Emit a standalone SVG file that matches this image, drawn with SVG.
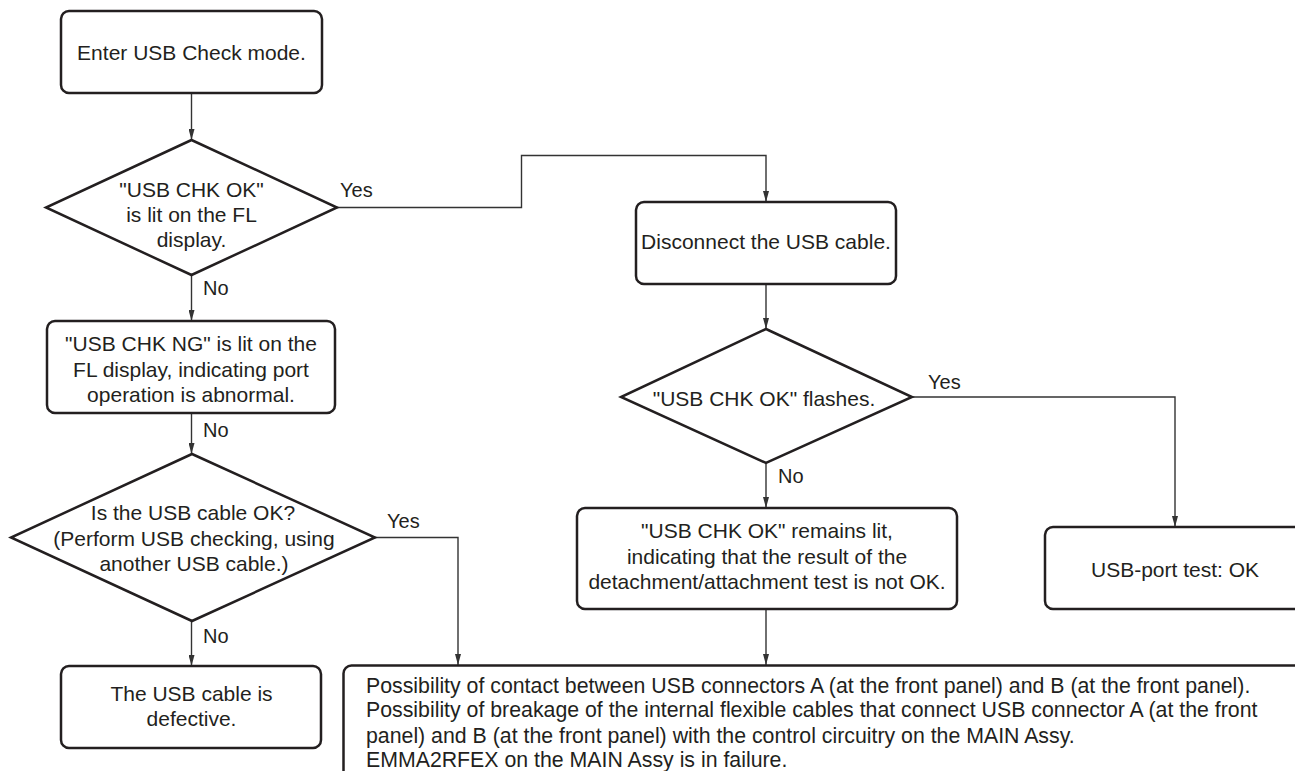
<svg xmlns="http://www.w3.org/2000/svg" width="1295" height="771" viewBox="0 0 1295 771">
<defs>
<marker id="arr" markerWidth="11" markerHeight="6" refX="11" refY="3" orient="auto" markerUnits="userSpaceOnUse">
<path d="M0,0 L11,3 L0,6 z" fill="#333"/>
</marker>
<style>
.box{fill:#fff;stroke:#231f20;stroke-width:2.5}
.t{font-family:"Liberation Sans",Arial,sans-serif;font-size:21px;fill:#231f20}
.b{font-size:21.3px}
.c{text-anchor:middle}
.lbl{font-family:"Liberation Sans",Arial,sans-serif;font-size:20px;fill:#231f20}
.conn{fill:none;stroke:#333;stroke-width:1.4}
.conn path{marker-end:url(#arr)}
</style>
</defs>
<rect width="1295" height="771" fill="#fff"/>

<g id="connectors" class="conn">
<path d="M191.5,93 V140"/>
<path d="M337,207.5 H521.5 V155.5 H766 V202"/>
<path d="M191.5,275 V321"/>
<path d="M191.5,413 V454"/>
<path d="M375,537.5 H458 V665"/>
<path d="M191.5,621 V666"/>
<path d="M766,284 V329"/>
<path d="M912,397 H1175 V527"/>
<path d="M766,463 V508"/>
<path d="M766,609 V665"/>
</g>

<g id="labels">
<text class="lbl" x="340" y="197">Yes</text>
<text class="lbl" x="203" y="295">No</text>
<text class="lbl" x="203" y="437">No</text>
<text class="lbl" x="387" y="528">Yes</text>
<text class="lbl" x="203" y="643">No</text>
<text class="lbl" x="928" y="389">Yes</text>
<text class="lbl" x="778" y="483">No</text>
</g>

<g id="n1">
<rect class="box" x="61" y="11" width="261" height="82" rx="8"/>
<text class="t c" x="191.5" y="60">Enter USB Check mode.</text>
</g>

<g id="n2">
<polygon class="box" points="191.5,140 337,207.5 191.5,275 46,207.5"/>
<text class="t c" x="191.5" y="197">"USB CHK OK"</text>
<text class="t c" x="191.5" y="222">is lit on the FL</text>
<text class="t c" x="191.5" y="247">display.</text>
</g>

<g id="n3">
<rect class="box" x="47" y="321" width="288" height="92" rx="8"/>
<text class="t c" x="191" y="351">"USB CHK NG" is lit on the</text>
<text class="t c" x="191" y="377">FL display, indicating port</text>
<text class="t c" x="191" y="402">operation is abnormal.</text>
</g>

<g id="n4">
<polygon class="box" points="192,454 375,537.5 192,621 11,537.5"/>
<text class="t c" x="193" y="520">Is the USB cable OK?</text>
<text class="t c" x="194" y="546">(Perform USB checking, using</text>
<text class="t c" x="194" y="571">another USB cable.)</text>
</g>

<g id="n5">
<rect class="box" x="61" y="666" width="260" height="82" rx="8"/>
<text class="t c" x="191.5" y="701">The USB cable is</text>
<text class="t c" x="191.5" y="726">defective.</text>
</g>

<g id="n6">
<rect class="box" x="636" y="202" width="260" height="82" rx="8"/>
<text class="t c" x="766" y="249">Disconnect the USB cable.</text>
</g>

<g id="n7">
<polygon class="box" points="766,329 912,397 766,463 621,397"/>
<text class="t c" x="764" y="406">"USB CHK OK" flashes.</text>
</g>

<g id="n8">
<rect class="box" x="577" y="508" width="380" height="101" rx="8"/>
<text class="t c" x="767" y="538">"USB CHK OK" remains lit,</text>
<text class="t c" x="767" y="564">indicating that the result of the</text>
<text class="t c" x="767" y="589">detachment/attachment test is not OK.</text>
</g>

<g id="n9">
<rect class="box" x="1045" y="527" width="270" height="82" rx="8"/>
<text class="t c" x="1175" y="577">USB-port test: OK</text>
</g>

<g id="n10">
<rect class="box" x="343.5" y="665.5" width="1000" height="200" rx="8"/>
<text class="t b" x="366" y="693">Possibility of contact between USB connectors A (at the front panel) and B (at the front panel).</text>
<text class="t b" x="366" y="717">Possibility of breakage of the internal flexible cables that connect USB connector A (at the front</text>
<text class="t b" x="366" y="743">panel) and B (at the front panel) with the control circuitry on the MAIN Assy.</text>
<text class="t b" x="366" y="767">EMMA2RFEX on the MAIN Assy is in failure.</text>
</g>
</svg>
